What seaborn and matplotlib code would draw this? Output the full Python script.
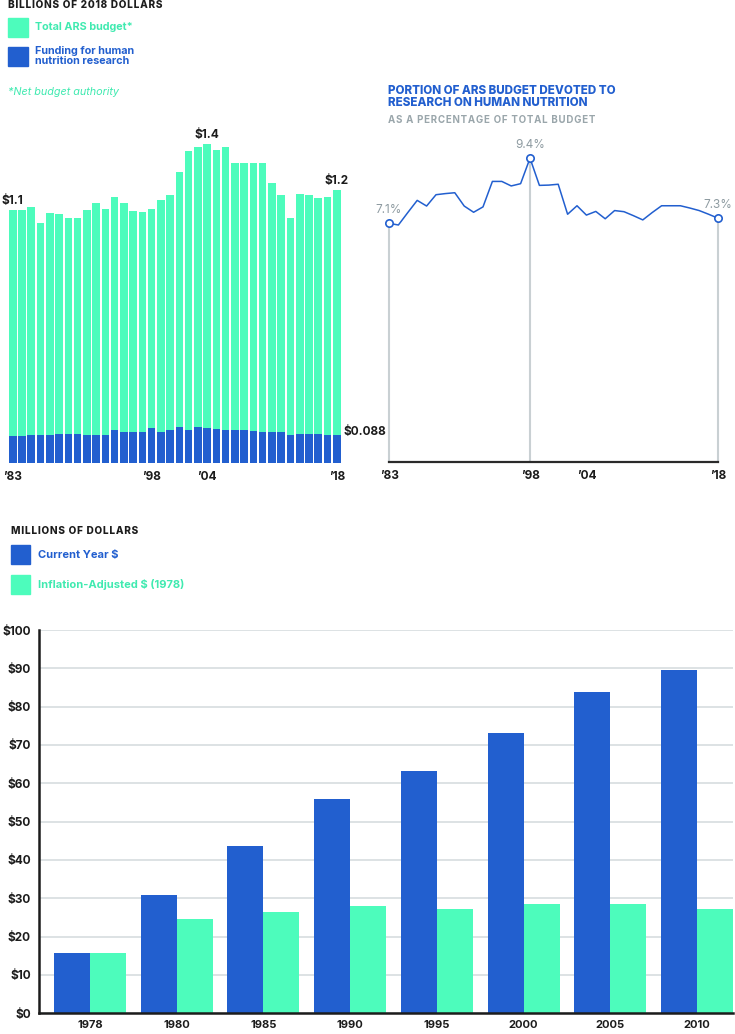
import numpy as np
import pandas as pd
import matplotlib
matplotlib.use('Agg')
import matplotlib.pyplot as plt
from matplotlib.patches import Rectangle
import seaborn as sns


# ARS budget, billions of 2018 dollars
years = list(range(1983, 2019))
total_budget = [1.100, 1.100, 1.112, 1.042, 1.087, 1.081, 1.065, 1.065, 1.100,
                1.132, 1.104, 1.157, 1.132, 1.096, 1.093, 1.104, 1.143, 1.164,
                1.265, 1.357, 1.375, 1.388, 1.361, 1.375, 1.306, 1.306, 1.306,
                1.306, 1.219, 1.164, 1.065, 1.171, 1.164, 1.152, 1.157, 1.187]
human_nutrition = [0.117, 0.117, 0.123, 0.123, 0.123, 0.127, 0.127, 0.127, 0.123,
                   0.123, 0.123, 0.145, 0.136, 0.133, 0.133, 0.153, 0.136, 0.145,
                   0.158, 0.145, 0.158, 0.153, 0.148, 0.145, 0.145, 0.145, 0.140,
                   0.136, 0.133, 0.133, 0.123, 0.127, 0.127, 0.126, 0.123, 0.123]

# share of ARS budget for human nutrition, percent
pct_human = [7.10, 7.04, 7.48, 7.91, 7.71, 8.11, 8.15, 8.18, 7.71, 7.49, 7.68,
             8.58, 8.58, 8.42, 8.50, 9.40, 8.44, 8.45, 8.48, 7.42, 7.72, 7.39,
             7.52, 7.26, 7.55, 7.51, 7.37, 7.22, 7.48, 7.72, 7.72, 7.72, 7.64,
             7.55, 7.42, 7.28]

# millions of dollars
bar_years = ['1978', '1980', '1985', '1990', '1995', '2000', '2005', '2010']
current_dollars = [15.8, 30.8, 43.7, 55.9, 63.3, 73.2, 83.8, 89.6]
adjusted_dollars = [15.8, 24.6, 26.3, 28.0, 27.2, 28.5, 28.5, 27.2]

green = '#4dfcbc'
green_txt = '#40eab0'
blue = '#225fcf'
gray_txt = '#8e9ba1'
dark = '#1c1c1c'

W, H = 735, 1034


def box(left, top, right, bottom):
    return [left / W, 1 - bottom / H, (right - left) / W, (bottom - top) / H]


def fx(x):
    return x / W


def fy(y):
    return 1 - y / H


def spaced(s):
    return '\u200a'.join(s)


sns.set_theme(style='white')
plt.rcParams['font.family'] = ['Inter', 'DejaVu Sans']

fig = plt.figure(figsize=(7.35, 10.34), dpi=100)

# ---------------- top left: stacked budget bars ----------------
ax0 = fig.add_axes(box(8.2, 130, 341.3, 463))
sns.barplot(x=years, y=total_budget, color=green, width=0.83, linewidth=0,
            saturation=1, ax=ax0)
sns.barplot(x=years, y=human_nutrition, color=blue, width=0.83, linewidth=0,
            saturation=1, ax=ax0)
ax0.set_xlim(-0.5, 35.5)
ax0.set_ylim(0, 333 / 230)
ax0.set_yticks([])
ax0.set_xticks([0, 15, 21, 35])
ax0.set_xticklabels(['\u201983', '\u201998', '\u201904', '\u201918'],
                    fontsize=8.5, fontweight='bold', color=dark)
ax0.tick_params(axis='x', length=0, pad=6)
ax0.set_xlabel('')
sns.despine(ax=ax0, left=True, bottom=True)

for i, lab in [(0, '$1.1'), (21, '$1.4'), (35, '$1.2')]:
    ax0.annotate(lab, (i, total_budget[i]), xytext=(0, 2),
                 textcoords='offset points', ha='center', va='bottom',
                 fontsize=8.5, fontweight='bold', color=dark, annotation_clip=False)
ax0.annotate('$0.088', (35.5, human_nutrition[-1]), xytext=(1.5, 2),
             textcoords='offset points', ha='left', va='center',
             fontsize=8.5, fontweight='bold', color=dark, annotation_clip=False)

# legend for top left
fig.text(fx(8), fy(5), spaced('BILLIONS OF 2018 DOLLARS'), fontsize=7.2,
         fontweight='heavy', color=dark, va='center')
fig.patches.append(Rectangle((fx(8), fy(37)), 20 / W, 19 / H,
                             transform=fig.transFigure, color=green))
fig.text(fx(35), fy(27), 'Total ARS budget*', fontsize=7.8, fontweight='bold',
         color=green_txt, va='center')
fig.patches.append(Rectangle((fx(8), fy(66)), 20 / W, 19 / H,
                             transform=fig.transFigure, color=blue))
fig.text(fx(35), fy(56), 'Funding for human\nnutrition research', fontsize=7.8,
         fontweight='bold', color=blue, va='center', linespacing=1.05)
fig.text(fx(8), fy(92), '*Net budget authority', fontsize=7.8, style='italic',
         color=green_txt, va='center')

# ---------------- top right: percentage line ----------------
ax1 = fig.add_axes(box(389, 140, 718, 462))
ybot = 7.1 - (462 - 223.3) / 28.3
ytop = 7.1 + (223.3 - 140) / 28.3
sns.lineplot(x=years, y=pct_human, color=blue, linewidth=1.1, ax=ax1)
ax1.set_xlim(1983, 2018)
ax1.set_ylim(ybot, ytop)
ax1.set_yticks([])
marks = [0, 15, 35]
for i in marks:
    ax1.vlines(years[i], ybot, pct_human[i], color='#c9d0d3', linewidth=1.5,
               zorder=1, clip_on=False)
ax1.scatter([years[i] for i in marks], [pct_human[i] for i in marks], s=28,
            facecolor='white', edgecolor=blue, linewidth=1.2, zorder=5,
            clip_on=False)
for i in marks:
    ax1.annotate(f'{pct_human[i]:.1f}%', (years[i], pct_human[i]),
                 xytext=(0, 5.5), textcoords='offset points', ha='center',
                 va='bottom', fontsize=8.5, color=gray_txt, annotation_clip=False)
ax1.set_xticks([1983, 1998, 2004, 2018])
ax1.set_xticklabels(['\u201983', '\u201998', '\u201904', '\u201918'],
                    fontsize=8.5, fontweight='bold', color=dark)
ax1.tick_params(axis='x', length=0, pad=6)
sns.despine(ax=ax1, left=True)
ax1.spines['bottom'].set_color('#2a2a2a')
ax1.spines['bottom'].set_linewidth(1.6)

fig.text(fx(388), fy(97), 'PORTION OF ARS BUDGET DEVOTED TO\nRESEARCH ON HUMAN NUTRITION',
         fontsize=8.4, fontweight='heavy', color=blue, va='center', linespacing=1.1)
fig.text(fx(388), fy(120), spaced('AS A PERCENTAGE OF TOTAL BUDGET'), fontsize=7.0,
         fontweight='bold', color='#9aa6ab', va='center')

# ---------------- bottom: grouped bars ----------------
df = pd.DataFrame({
    'year': bar_years * 2,
    'value': current_dollars + adjusted_dollars,
    'series': ['Current Year $'] * len(bar_years)
              + ['Inflation-Adjusted $ (1978)'] * len(bar_years),
})
ax2 = fig.add_axes(box(39, 630, 733, 1013.3))
ax2.grid(axis='y', color='#d3dadc', linewidth=1.1)
ax2.set_axisbelow(True)
sns.barplot(data=df, x='year', y='value', hue='series', palette=[blue, green],
            width=0.83, linewidth=0, saturation=1, legend=False, ax=ax2)
ax2.set_xlim(-0.588, 7.415)
ax2.set_ylim(0, 100)
ax2.set_yticks(range(0, 101, 10))
ax2.set_yticklabels([f'${v}' for v in range(0, 101, 10)], fontsize=8.5,
                    fontweight='bold', color=dark)
ax2.set_xticks(range(len(bar_years)))
ax2.set_xticklabels(bar_years, fontsize=8, fontweight='bold', color=dark)
ax2.tick_params(axis='y', length=0, pad=6)
ax2.tick_params(axis='x', length=0, pad=5)
ax2.set_xlabel('')
ax2.set_ylabel('')
sns.despine(ax=ax2)
for side in ['left', 'bottom']:
    ax2.spines[side].set_color(dark)
    ax2.spines[side].set_linewidth(1.8)

fig.text(fx(11), fy(531), spaced('MILLIONS OF DOLLARS'), fontsize=7.2,
         fontweight='heavy', color=dark, va='center')
fig.patches.append(Rectangle((fx(11), fy(564)), 19 / W, 19 / H,
                             transform=fig.transFigure, color=blue))
fig.text(fx(38), fy(555), 'Current Year $', fontsize=8.0, fontweight='bold',
         color=blue, va='center')
fig.patches.append(Rectangle((fx(11), fy(594)), 19 / W, 19 / H,
                             transform=fig.transFigure, color=green))
fig.text(fx(38), fy(585), 'Inflation-Adjusted $ (1978)', fontsize=8.0,
         fontweight='bold', color=green_txt, va='center')

fig.savefig('out.png', dpi=100)
